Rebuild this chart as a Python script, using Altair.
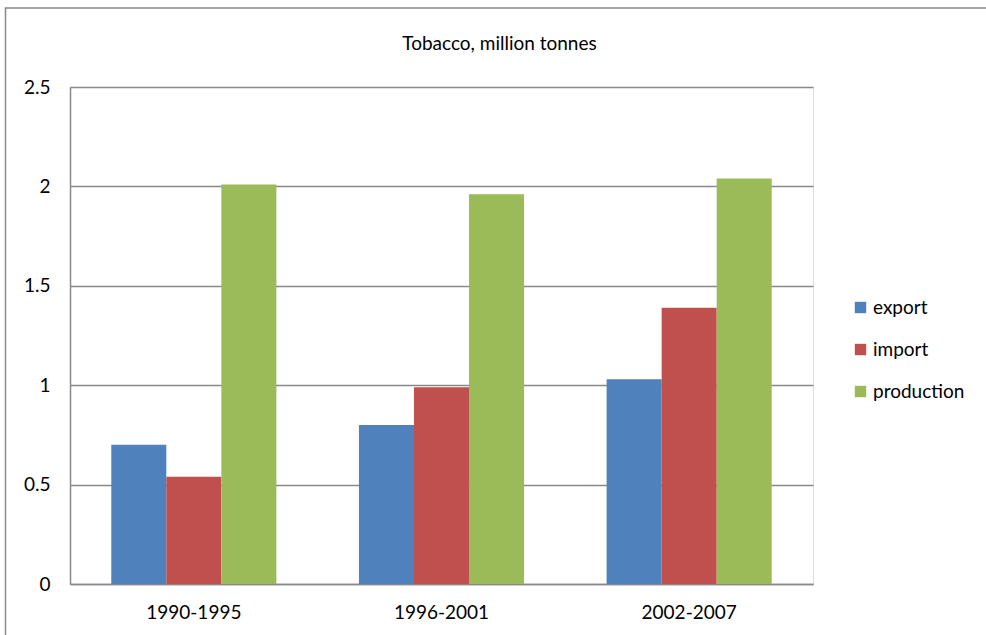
import altair as alt
import pandas as pd

# Tobacco trade and production by period, million tonnes
periods = ["1990-1995", "1996-2001", "2002-2007"]
series = ["export", "import", "production"]
export_vals = [0.70, 0.80, 1.03]
import_vals = [0.54, 0.99, 1.39]
production_vals = [2.01, 1.96, 2.04]
colors = ["#4F81BD", "#C0504D", "#9BBB59"]
y_ticks = [0, 0.5, 1, 1.5, 2, 2.5]

rows = []
for name, vals in zip(series, [export_vals, import_vals, production_vals]):
    for period, v in zip(periods, vals):
        rows.append({"period": period, "series": name, "value": v})
df = pd.DataFrame(rows)

FONT = "Lato"
GRID = "#898989"
PLOT_W, PLOT_H = 743, 497
PAD = {"left": 70, "top": 87, "right": 986 - 70 - PLOT_W, "bottom": 635 - 87 - PLOT_H}

bars = alt.Chart(df).mark_bar().encode(
    x=alt.X(
        "period:N",
        sort=periods,
        scale=alt.Scale(paddingInner=1 / 3, paddingOuter=1 / 6),
        axis=alt.Axis(
            title=None, labelAngle=0, ticks=False, domainColor=GRID,
            domainWidth=1.5, labelPadding=19, labelFontSize=19,
            labelFont=FONT, labelColor="#000000",
        ),
    ),
    xOffset=alt.XOffset("series:N", sort=series,
                        scale=alt.Scale(paddingInner=0, paddingOuter=0)),
    y=alt.Y(
        "value:Q",
        scale=alt.Scale(domain=[0, 2.5], nice=False),
        axis=alt.Axis(
            title=None, values=y_ticks, format="~g", ticks=False, grid=True,
            gridColor=GRID, gridWidth=1.5, domainColor=GRID, domainWidth=1.5,
            labelPadding=20, labelFontSize=19, labelFont=FONT,
            labelColor="#000000",
        ),
    ),
    color=alt.Color(
        "series:N",
        sort=series,
        scale=alt.Scale(domain=series, range=colors),
        legend=alt.Legend(
            title=None, orient="none", legendX=781, legendY=211,
            symbolType="square", symbolSize=130, symbolStrokeWidth=0,
            labelFontSize=19, labelFont=FONT, labelColor="#000000",
            rowPadding=22, labelOffset=3,
        ),
    ),
)

# Outer chart frame (its right and bottom edges run past the page)
frame = alt.Chart(pd.DataFrame({"f": [0]})).mark_rect(
    fill=None, stroke=GRID, strokeWidth=1.5
).encode(
    x=alt.value(-64.5), x2=alt.value(1000),
    y=alt.value(-79), y2=alt.value(700),
)

chart = alt.layer(frame, bars).properties(
    width=PLOT_W,
    height=PLOT_H,
    title=alt.TitleParams(
        "Tobacco, million tonnes", font=FONT, fontSize=19,
        fontWeight="normal", color="#000000", anchor="middle",
        frame="group", dx=58, offset=-62, baseline="alphabetic",
    ),
    autosize=alt.AutoSizeParams(type="none"),
    padding=PAD,
).configure_view(stroke=None).configure(background="white")

chart.save("out.html", embed_options={"renderer": "svg", "actions": False})
